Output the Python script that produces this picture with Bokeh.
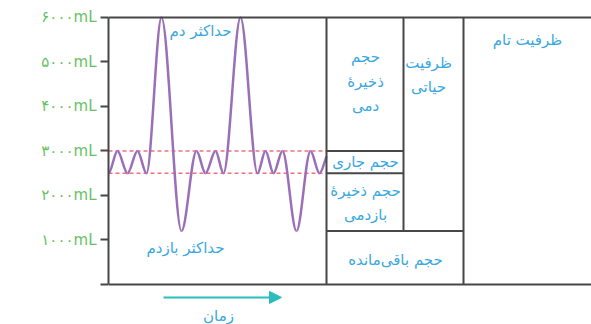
from bokeh.plotting import figure
from bokeh.models import Range1d, FixedTicker, Arrow, NormalHead
from bokeh.core.properties import value
from bokeh.embed import file_html
from bokeh.resources import INLINE

# ---- data (volumes in mL, time in arbitrary units) ----
tick_values = [0, 1000, 2000, 3000, 4000, 5000, 6000]
tick_labels = ["", "۱۰۰۰mL", "۲۰۰۰mL", "۳۰۰۰mL", "۴۰۰۰mL", "۵۰۰۰mL", "۶۰۰۰mL"]

# extrema of the spirometer trace (time, volume)
trace_t = [0, 9, 19, 29, 38, 53, 73, 88, 97, 107, 115, 132, 149, 157, 165, 174, 188, 202, 211, 218]
trace_v = [2500, 3000, 2500, 3000, 2500, 6000, 1200, 3000, 2500, 3000, 2500, 6000, 2500, 3000, 2500, 3000, 1200, 3000, 2500, 2880]

residual_volume = 1200
end_expiration = 2500
end_inspiration = 3000
max_inspiration = 6000

FONT = value("DejaVu Sans")
BLUE = "#3aa8de"
GREEN = "#66c266"
DARK = "#474747"

p = figure(width=591, height=324, output_backend="svg", toolbar_location=None,
           x_range=Range1d(0, 483), y_range=Range1d(-899, 6382),
           min_border_left=108, min_border_right=0, min_border_top=0, min_border_bottom=0)
p.outline_line_color = None
p.grid.visible = False
p.xaxis.visible = False

ya = p.yaxis[0]
ya.ticker = FixedTicker(ticks=tick_values)
ya.major_label_overrides = {v: l for v, l in zip(tick_values, tick_labels)}
ya.bounds = (0, max_inspiration)
ya.axis_line_color = DARK
ya.axis_line_width = 2
ya.major_tick_line_color = DARK
ya.major_tick_line_width = 2
ya.major_tick_out = 8
ya.major_tick_in = 0
ya.minor_tick_line_color = None
ya.major_label_text_color = GREEN
ya.major_label_text_font = "DejaVu Sans"
ya.major_label_text_font_size = "15px"
ya.major_label_standoff = 4

# column layout (x positions in time units)
col_a, col_b, col_c, col_end = 218, 295, 355, 483

# dashed reference lines
for v in (end_inspiration, end_expiration):
    p.line([0, col_a], [v, v], line_color="#f07080", line_width=1.5, line_dash="4 3")

# trace drawn as bezier segments with horizontal tangents at extrema
x0 = trace_t[:-1]; x1 = trace_t[1:]
y0 = trace_v[:-1]; y1 = trace_v[1:]
cx0 = [a + (b - a) / 3 for a, b in zip(x0, x1)]
cx1 = [b - (b - a) / 3 for a, b in zip(x0, x1)]
cy0 = list(y0)
cy1 = list(y1)
cy1[-1] = y1[-1] - 150
p.bezier(x0=x0, y0=y0, x1=x1, y1=y1, cx0=cx0, cy0=cy0, cx1=cx1, cy1=cy1,
         line_color="#9b6fb8", line_width=2.5)

# box borders
p.segment(x0=[0, 0, col_a, col_a, col_a, col_a, col_b, col_c],
          y0=[0, max_inspiration, end_inspiration, end_expiration, residual_volume, 0, residual_volume, 0],
          x1=[col_end, col_end, col_b, col_b, col_c, col_a, col_b, col_c],
          y1=[0, max_inspiration, end_inspiration, end_expiration, residual_volume, max_inspiration, max_inspiration, max_inspiration],
          line_color=DARK, line_width=2)

# labels
def lab(x, y, t, lh=1.35):
    p.text(x=[x], y=[y], text=[t], text_color=BLUE, text_font=FONT, text_font_size="15px",
           text_align="center", text_baseline="middle", text_line_height=lh)

lab(92, 5700, "حداکثر دم")
lab(77, 830, "حداکثر بازدم")
lab(257, 4560, "حجم\nذخیرهٔ\nدمی")
lab(320, 4700, "ظرفیت\nحیاتی")
lab(257, 2750, "حجم جاری")
lab(257, 1830, "حجم ذخیرهٔ\nبازدمی")
lab(287, 560, "حجم باقی‌مانده")
lab(419, 5500, "ظرفیت تام")
lab(110, -700, "زمان")

# time arrow
p.add_layout(Arrow(x_start=55, y_start=-290, x_end=173, y_end=-290,
                   line_color="#2bbdbd", line_width=2,
                   end=NormalHead(size=12, fill_color="#2bbdbd", line_color="#2bbdbd")))

open("out.html", "w").write(file_html(p, INLINE))
